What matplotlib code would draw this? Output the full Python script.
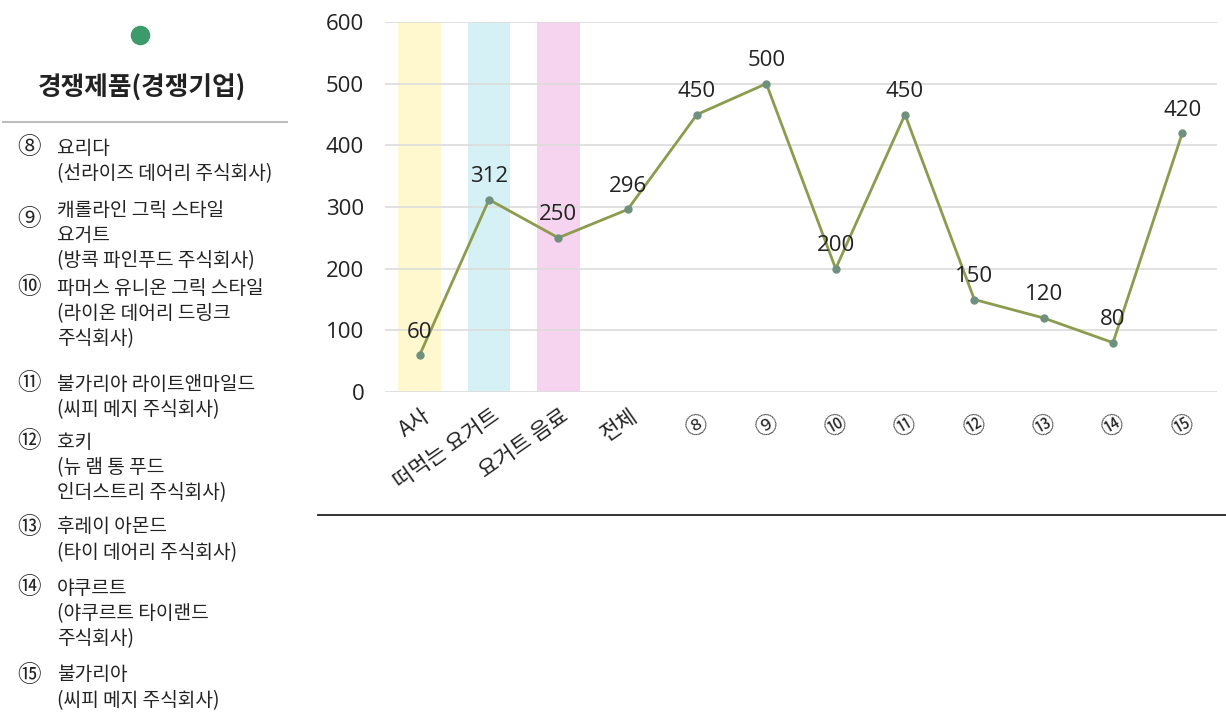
import matplotlib
matplotlib.use("Agg")
import matplotlib.pyplot as plt
from matplotlib.transforms import ScaledTranslation

plt.rcParams['font.family'] = ['Noto Sans CJK KR', 'DejaVu Sans']

# chart data
categories = ['A사', '떠먹는 요거트', '요거트 음료', '전체',
              '⑧', '⑨', '⑩', '⑪', '⑫', '⑬', '⑭', '⑮']
values = [60, 312, 250, 296, 450, 500, 200, 450, 150, 120, 80, 420]
band_colors = ['#fff8cf', '#d6f1f6', '#f6d3ee']
yticks = [0, 100, 200, 300, 400, 500, 600]

# side legend text
legend_title = '경쟁제품(경쟁기업)'
legend_nums = ['⑧', '⑨', '⑩', '⑪', '⑫', '⑬', '⑭', '⑮']
legend_names = ['요리다\n(선라이즈 데어리 주식회사)',
                '캐롤라인 그릭 스타일\n요거트\n(방콕 파인푸드 주식회사)',
                '파머스 유니온 그릭 스타일\n(라이온 데어리 드링크\n주식회사)',
                '불가리아 라이트앤마일드\n(씨피 메지 주식회사)',
                '호키\n(뉴 램 통 푸드\n인더스트리 주식회사)',
                '후레이 아몬드\n(타이 데어리 주식회사)',
                '야쿠르트\n(야쿠르트 타이랜드\n주식회사)',
                '불가리아\n(씨피 메지 주식회사)']
# layout of the legend (pixel rows)
legend_y = [148, 210, 288, 384, 442, 527, 588, 675]
num_dy = [0, 10, 0, 0, 0, 0, 0, 0]
line_h = 25.5

W, H = 1226, 721
fig = plt.figure(figsize=(W / 100, H / 100), dpi=100)

# main line chart
ax = fig.add_axes([385 / W, 1 - 392 / H, (1217 - 385) / W, (392 - 22) / H])
x = list(range(len(categories)))
for i, c in enumerate(band_colors):
    ax.axvspan(i - 0.31, i + 0.31, color=c, zorder=0, lw=0)
ax.plot(x, values, color='#8c9c4e', lw=2, marker='o', markersize=5,
        markerfacecolor='#6f907f', markeredgecolor='#6f907f', zorder=3)
for xi, v in zip(x, values):
    ax.annotate(str(v), (xi, v), xytext=(0, 9), textcoords='offset points',
                ha='center', va='bottom', fontsize=16, color='#222222',
                family=['Open Sans', 'DejaVu Sans'])

ax.set_xlim(-0.5, len(categories) - 0.5)
ax.set_ylim(0, 600)
ax.set_yticks(yticks)
ax.set_yticklabels([str(t) for t in yticks], fontsize=16, color='#222222',
                   family=['Open Sans', 'DejaVu Sans'])
ax.yaxis.grid(True, color='#dcdcdc', lw=1.2, zorder=1)
ax.set_axisbelow(True)
ax.tick_params(axis='y', length=0, pad=15)
ax.tick_params(axis='x', length=0, pad=9)
ax.set_xticks(x)
ax.set_xticklabels(categories)
for lab in ax.get_xticklabels():
    if lab.get_text() in legend_nums:
        lab.set_fontsize(16)
        lab.set_rotation(30)
        lab.set_ha('center')
        lab.set_va('center')
        lab.set_transform(lab.get_transform() +
                          ScaledTranslation(0, -0.22, fig.dpi_scale_trans))
    else:
        lab.set_fontsize(15.5)
        lab.set_rotation(35)
        lab.set_ha('right')
        lab.set_va('top')
        lab.set_rotation_mode('anchor')
        lab.set_transform(lab.get_transform() +
                          ScaledTranslation(0.02, 0, fig.dpi_scale_trans))
    lab.set_color('#222222')
for s in ax.spines.values():
    s.set_visible(False)

# overlay in pixel coordinates for the side panel
ov = fig.add_axes([0, 0, 1, 1], facecolor='none')
ov.set_xlim(0, W)
ov.set_ylim(H, 0)
ov.axis('off')
ov.scatter([140], [35], s=170, color='#3c9a6b', zorder=3)
ov.text(142, 88, legend_title, ha='center', va='center', fontsize=18.5,
        fontweight='bold', color='#222222')
ov.plot([3, 287], [122, 122], color='#bdbdbd', lw=1.5)
for num, name, y0, dy in zip(legend_nums, legend_names, legend_y, num_dy):
    ov.text(29, y0 + dy, num, ha='center', va='center', fontsize=17, color='#222222')
    for k, line in enumerate(name.split('\n')):
        ov.text(57, y0 + k * line_h, line, ha='left', va='center',
                fontsize=13.8, color='#222222')
ov.plot([318, W], [515, 515], color='#222222', lw=1.3)

fig.savefig('out.png', dpi=100)
